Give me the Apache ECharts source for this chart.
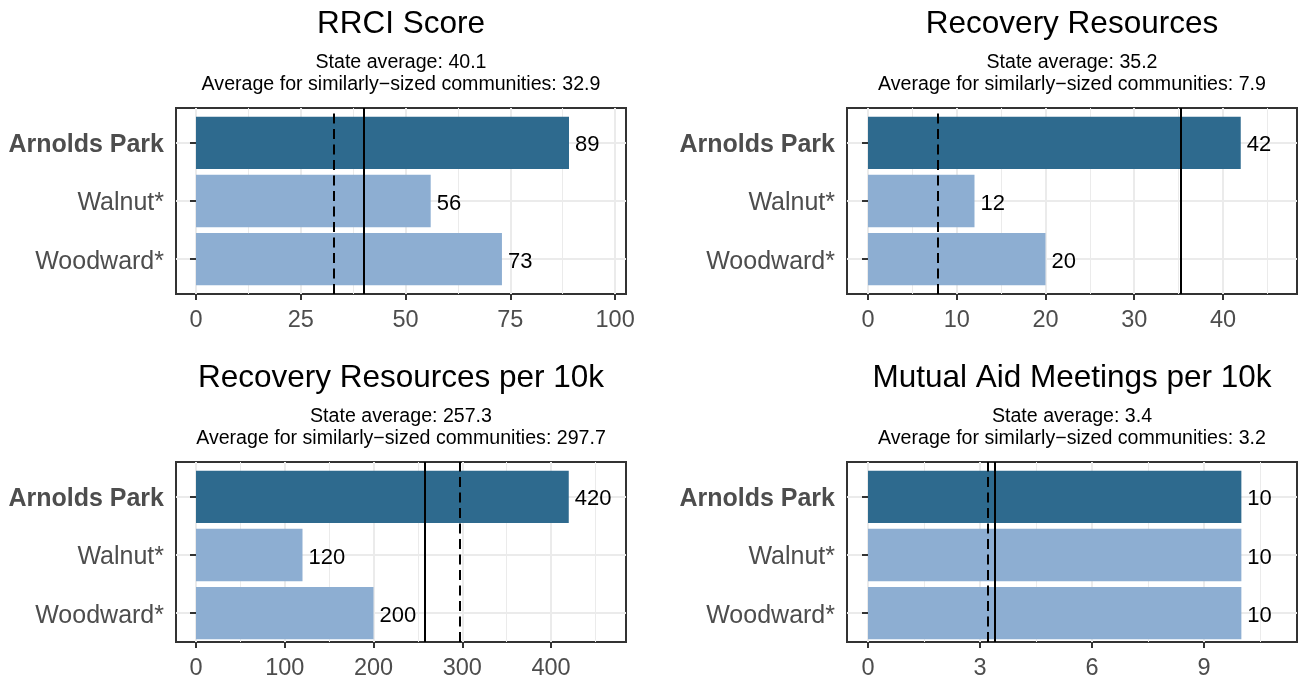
<!DOCTYPE html>
<html><head><meta charset="utf-8">
<script src="https://cdn.jsdelivr.net/npm/echarts@6/dist/echarts.min.js"></script>
<style>html,body{margin:0;padding:0;background:#fff}#c{width:1299px;height:681px}</style>
</head><body><div id="c"></div><script>
// ---- data ----
const categories = ['Arnolds Park', 'Walnut*', 'Woodward*'];
const highlightName = 'Arnolds Park';
const panelTitles = ['RRCI Score', 'Recovery Resources', 'Recovery Resources per 10k', 'Mutual Aid Meetings per 10k'];
const rrciScore = [89, 56, 73];
const recoveryResources = [42, 12, 20];
const recoveryPer10k = [420, 120, 200];
const meetingsPer10k = [10, 10, 10];
const stateAverages = [40.1, 35.2, 257.3, 3.4];
const similarAverages = [32.9, 7.9, 297.7, 3.2];
const ticksRrci = [0, 25, 50, 75, 100];
const ticksResources = [0, 10, 20, 30, 40];
const ticksPer10k = [0, 100, 200, 300, 400];
const ticksMeetings = [0, 3, 6, 9];
const minorRrci = [12.5, 37.5, 62.5, 87.5];
const minorResources = [5, 15, 25, 35, 45];
const minorPer10k = [50, 150, 250, 350, 450];
const minorMeetings = [1.5, 4.5, 7.5, 10.5];
const rangeRrci = [-4.77, 102.6];
const rangeResources = [-2.366, 48.34];
const rangePer10k = [-22.54, 484.5];
const rangeMeetings = [-0.5625, 11.49];

// ---- build ----
const panels = [
  { title: panelTitles[0], values: rrciScore, ticks: ticksRrci, minor: minorRrci, range: rangeRrci, state: stateAverages[0], similar: similarAverages[0] },
  { title: panelTitles[1], values: recoveryResources, ticks: ticksResources, minor: minorResources, range: rangeResources, state: stateAverages[1], similar: similarAverages[1] },
  { title: panelTitles[2], values: recoveryPer10k, ticks: ticksPer10k, minor: minorPer10k, range: rangePer10k, state: stateAverages[2], similar: similarAverages[2] },
  { title: panelTitles[3], values: meetingsPer10k, ticks: ticksMeetings, minor: minorMeetings, range: rangeMeetings, state: stateAverages[3], similar: similarAverages[3] }
];
const FONT = 'Liberation Sans, Arial, Helvetica, sans-serif';
const DARK = '#2E6A8E', LIGHT = '#8DAED2';
const lefts = [176, 847], tops = [108, 462], W = 450, H = 186;
const titleTops = [9, 363], subTops = [52, 406];

const grids = [], xAxes = [], yAxes = [], series = [], titles = [];
panels.forEach((p, i) => {
  const col = i % 2, row = Math.floor(i / 2);
  const left = lefts[col], top = tops[row];
  const u = H / 3.2;
  const cx = left + W / 2;
  titles.push({ text: p.title, left: cx, top: titleTops[row], textAlign: 'center', padding: 0,
    textStyle: { fontSize: 31.5, fontWeight: 'normal', color: '#000', fontFamily: FONT, lineHeight: 31 } });
  titles.push({ text: 'State average: ' + p.state.toFixed(1) + '\nAverage for similarly\u2212sized communities: ' + p.similar.toFixed(1),
    left: cx, top: subTops[row], textAlign: 'center', padding: 0,
    textStyle: { fontSize: 19.6, fontWeight: 'normal', color: '#000', fontFamily: FONT, lineHeight: 22 } });

  const fg = grids.length;
  grids.push({ left: left, top: top, width: W, height: H, show: true, borderColor: '#333333', borderWidth: 2, backgroundColor: 'transparent' });
  const ig = grids.length;
  grids.push({ left: left, top: top + 0.6 * u, width: W, height: 2 * u, show: false });

  const xMaj = xAxes.length;
  xAxes.push({ type: 'value', gridIndex: fg, min: p.range[0], max: p.range[1], position: 'bottom',
    axisLine: { show: false },
    axisTick: { show: true, length: 6, customValues: p.ticks, lineStyle: { color: '#333333', width: 2 } },
    axisLabel: { show: true, customValues: p.ticks, color: '#4D4D4D', fontSize: 23.5, fontFamily: FONT, margin: 15 },
    splitLine: { show: true, lineStyle: { color: '#EBEBEB', width: 2 } } });
  xAxes.push({ type: 'value', gridIndex: fg, min: p.range[0], max: p.range[1], position: 'top',
    axisLine: { show: false }, axisLabel: { show: false },
    axisTick: { show: false, customValues: p.minor },
    splitLine: { show: true, lineStyle: { color: '#EBEBEB', width: 1 } } });
  const yFrame = yAxes.length;
  yAxes.push({ type: 'value', gridIndex: fg, min: 0, max: 1, show: false });

  const xIn = xAxes.length;
  xAxes.push({ type: 'value', gridIndex: ig, min: p.range[0], max: p.range[1], show: false });
  const yIn = yAxes.length;
  yAxes.push({ type: 'category', gridIndex: ig, data: categories, inverse: true, boundaryGap: false,
    axisLine: { show: false },
    axisTick: { show: true, length: 6, lineStyle: { color: '#333333', width: 2 } },
    axisLabel: { margin: 12, fontFamily: FONT,
      formatter: v => v === highlightName ? '{b|' + v + '}' : '{n|' + v + '}',
      rich: { b: { fontSize: 25, fontWeight: 'bold', color: '#4D4D4D', fontFamily: FONT, padding: [5, 0, 0, 0] },
              n: { fontSize: 25, color: '#4D4D4D', fontFamily: FONT, padding: [5, 0, 0, 0] } } },
    splitLine: { show: true, lineStyle: { color: '#EBEBEB', width: 2 } } });

  series.push({ type: 'bar', xAxisIndex: xIn, yAxisIndex: yIn, barWidth: 0.9 * u, silent: true,
    data: p.values.map((v, k) => ({ value: v, itemStyle: { color: categories[k] === highlightName ? DARK : LIGHT } })),
    label: { show: true, position: 'right', distance: 6, offset: [0, 2.5], color: '#000', fontSize: 22, fontFamily: FONT } });
  series.push({ type: 'line', xAxisIndex: xMaj, yAxisIndex: yFrame, data: [], silent: true,
    markLine: { silent: true, symbol: ['none', 'none'], animation: false, label: { show: false },
      data: [
        { xAxis: p.state, lineStyle: { type: 'solid', color: '#000', width: 2 } },
        { xAxis: p.similar, lineStyle: { type: [10, 5.5], color: '#000', width: 2 } }
      ] } });
});

const chart = echarts.init(document.getElementById('c'), null, { renderer: 'canvas' });
chart.setOption({ animation: false, backgroundColor: '#fff', title: titles, grid: grids, xAxis: xAxes, yAxis: yAxes, series: series });
</script></body></html>
